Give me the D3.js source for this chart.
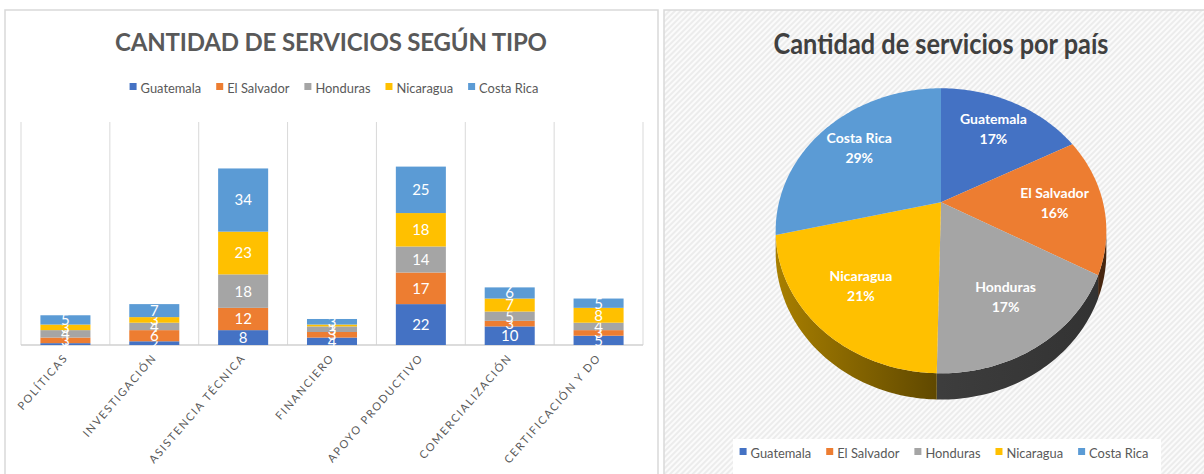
<!DOCTYPE html>
<html>
<head>
<meta charset="utf-8">
<script src="https://cdn.jsdelivr.net/npm/d3@7"></script>
<style>
  body { margin: 0; background: #fff; }
  svg { display: block; }
</style>
</head>
<body>
<div id="chart"></div>
<script>
// bar chart data
const categories = ["POLÍTICAS", "INVESTIGACIÓN", "ASISTENCIA TÉCNICA", "FINANCIERO", "APOYO PRODUCTIVO", "COMERCIALIZACIÓN", "CERTIFICACIÓN Y DO"]
const countries = ["Guatemala", "El Salvador", "Honduras", "Nicaragua", "Costa Rica"]
const guatemala  = [1, 2, 8, 4, 22, 10, 5]
const elSalvador = [3, 6, 12, 3, 17, 3, 3]
const honduras   = [4, 4, 18, 3, 14, 5, 4]
const nicaragua  = [3, 3, 23, 1, 18, 7, 8]
const costaRica  = [5, 7, 34, 3, 25, 6, 5]
// pie data (services per country)
const pieValues = [52, 47, 52, 63, 86]
const colors = ["#4472c4", "#ed7d31", "#a5a5a5", "#ffc000", "#5b9bd5"]

const W = 1204, H = 474
const FONT = "Lato, 'Open Sans', sans-serif"

const svg = d3.select("#chart").append("svg")
    .attr("width", W)
    .attr("height", H)

const defs = svg.append("defs")
const hatch = defs.append("pattern")
    .attr("id", "hatch")
    .attr("width", 4).attr("height", 4)
    .attr("patternUnits", "userSpaceOnUse")
    .attr("patternTransform", "rotate(45)")
hatch.append("rect").attr("width", 4).attr("height", 4).attr("fill", "#fbfbfb")
hatch.append("rect").attr("width", 2).attr("height", 4).attr("fill", "#ececec")

// panels
svg.append("rect")
    .attr("x", 5).attr("y", 10).attr("width", 653).attr("height", 480)
    .attr("fill", "#fff").attr("stroke", "#d9d9d9").attr("stroke-width", 1.5)
svg.append("rect")
    .attr("x", 664).attr("y", 10).attr("width", 560).attr("height", 480)
    .attr("fill", "url(#hatch)").attr("stroke", "#d9d9d9").attr("stroke-width", 1.5)

// ---------- stacked bar chart ----------
const rows = categories.map((c, i) => ({
    cat: c,
    "Guatemala": guatemala[i],
    "El Salvador": elSalvador[i],
    "Honduras": honduras[i],
    "Nicaragua": nicaragua[i],
    "Costa Rica": costaRica[i]
}))

const x = d3.scaleBand()
    .domain(categories)
    .range([21, 643])
    .paddingInner(0.437)
    .paddingOuter(0.2185)

const y = d3.scaleLinear()
    .domain([0, 120])
    .range([345, 122])

const step = x.step()
const left = x.range()[0]

// vertical gridlines between categories
svg.append("g").selectAll("line")
    .data(d3.range(categories.length + 1))
    .join("line")
    .attr("x1", i => left + i * step)
    .attr("x2", i => left + i * step)
    .attr("y1", y(120))
    .attr("y2", y(0))
    .attr("stroke", "#d9d9d9")
    .attr("stroke-width", 1)

svg.append("line")
    .attr("x1", left).attr("x2", x.range()[1])
    .attr("y1", y(0)).attr("y2", y(0))
    .attr("stroke", "#d0d0d0").attr("stroke-width", 1.5)

const stacked = d3.stack().keys(countries)(rows)

const layer = svg.append("g").selectAll("g")
    .data(stacked)
    .join("g")
    .attr("fill", (d, i) => colors[i])

layer.selectAll("rect")
    .data(d => d)
    .join("rect")
    .attr("x", d => x(d.data.cat))
    .attr("width", x.bandwidth())
    .attr("y", d => y(d[1]))
    .attr("height", d => y(d[0]) - y(d[1]))

layer.selectAll("text")
    .data(d => d)
    .join("text")
    .attr("x", d => x(d.data.cat) + x.bandwidth() / 2)
    .attr("y", d => (y(d[0]) + y(d[1])) / 2)
    .attr("dy", "0.36em")
    .attr("text-anchor", "middle")
    .attr("fill", "#fff")
    .style("font-family", FONT)
    .style("font-size", "15px")
    .text(d => d[1] - d[0])

// category labels
svg.append("g").selectAll("text")
    .data(categories)
    .join("text")
    .attr("transform", d => `translate(${x(d) + x.bandwidth() / 2 + 3},${y(0) + 13}) rotate(-49)`)
    .attr("text-anchor", "end")
    .attr("fill", "#595959")
    .style("font-family", FONT)
    .style("font-size", "11px")
    .style("letter-spacing", "1.7px")
    .text(d => d)

// title
svg.append("text")
    .attr("x", 331).attr("y", 51)
    .attr("text-anchor", "middle")
    .attr("fill", "#595959")
    .attr("textLength", 432)
    .attr("lengthAdjust", "spacing")
    .style("font-family", FONT)
    .style("font-weight", "bold")
    .style("font-size", "24px")
    .text("CANTIDAD  DE  SERVICIOS  SEGÚN  TIPO")

function legend(cx, baseline) {
    const g = svg.append("g")
    const items = g.selectAll("g")
        .data(countries)
        .join("g")
    items.append("rect")
        .attr("width", 7).attr("height", 7)
        .attr("y", baseline - 10)
        .attr("fill", (d, i) => colors[i])
    const texts = items.append("text")
        .attr("x", 11)
        .attr("y", baseline)
        .attr("fill", "#595959")
        .style("font-family", FONT)
        .style("font-size", "14px")
        .text(d => d)
    // squeeze text to a Calibri-like width
    texts.each(function () {
        const w = this.getComputedTextLength()
        d3.select(this).attr("textLength", w * 0.92).attr("lengthAdjust", "spacingAndGlyphs")
    })
    const widths = texts.nodes().map(n => +n.getAttribute("textLength") + 11)
    const gap = 15
    const total = d3.sum(widths) + gap * (widths.length - 1)
    let pos = cx - total / 2
    items.attr("transform", (d, i) => {
        const t = `translate(${pos},0)`
        pos += widths[i] + gap
        return t
    })
}

legend(334, 93)

// ---------- 3D pie chart ----------
const pcx = 941, pcy = 202.3, R = 162, A = 136.8, persp = 0.2, depth = 21

// perspective projection of a point on a tilted disc
function proj(theta, r, dz) {
    const u = r * Math.sin(theta)
    const v = -r * Math.cos(theta)
    const w = 1 / (1 - persp * v)
    return [pcx + R * u * w, pcy + A * v * w + (dz ? dz * w : 0)]
}

const pie = d3.pie().sort(null).value(d => d)
const arcs = pie(pieValues)
const total = d3.sum(pieValues)

function arcPoints(a0, a1, r, dz) {
    const n = Math.max(2, Math.ceil((a1 - a0) / 0.02))
    return d3.range(n + 1).map(k => proj(a0 + (a1 - a0) * k / n, r, dz))
}

// side walls (only the front half is visible)
const visA = Math.acos(-persp), visB = 2 * Math.PI - Math.acos(-persp)
const sides = svg.append("g")
arcs.forEach((a, i) => {
    const s = Math.max(a.startAngle, visA)
    const e = Math.min(a.endAngle, visB)
    if (e <= s) return
    const grad = defs.append("linearGradient")
        .attr("id", "side" + i)
        .attr("gradientUnits", "userSpaceOnUse")
        .attr("x1", pcx - R * 1.02).attr("x2", pcx + R * 1.02)
        .attr("y1", 0).attr("y2", 0)
    const base = d3.rgb(colors[i])
    ;[[0, 0.66], [0.5, 0.37], [1, 0.3]].forEach(([o, f]) => {
        grad.append("stop")
            .attr("offset", o)
            .attr("stop-color", d3.rgb(base.r * f, base.g * f, base.b * f))
    })
    const pts = arcPoints(s, e, 1, 0).concat(arcPoints(s, e, 1, depth).reverse())
    sides.append("path")
        .attr("d", "M" + pts.map(p => p.join(",")).join("L") + "Z")
        .attr("fill", `url(#side${i})`)
})

// top faces
svg.append("g").selectAll("path")
    .data(arcs)
    .join("path")
    .attr("d", a => {
        const pts = [[pcx, pcy]].concat(arcPoints(a.startAngle, a.endAngle, 1, 0))
        return "M" + pts.map(p => p.join(",")).join("L") + "Z"
    })
    .attr("fill", (a, i) => colors[i])

// slice labels
const labels = svg.append("g").selectAll("g")
    .data(arcs)
    .join("g")
    .attr("transform", a => {
        const p = proj((a.startAngle + a.endAngle) / 2, 0.7, 0)
        return `translate(${p[0]},${p[1]})`
    })
    .attr("text-anchor", "middle")
    .attr("fill", "#fff")
    .style("font-family", FONT)
    .style("font-weight", "bold")
    .style("font-size", "14px")
labels.append("text").attr("y", -5).text((a, i) => countries[i])
labels.append("text").attr("y", 15).text(a => Math.round(a.value / total * 100) + "%")

// pie title
svg.append("text")
    .attr("x", 941).attr("y", 54)
    .attr("text-anchor", "middle")
    .attr("fill", "#404040")
    .attr("textLength", 335)
    .attr("lengthAdjust", "spacingAndGlyphs")
    .style("font-family", FONT)
    .style("font-weight", "bold")
    .style("font-size", "29px")
    .text("Cantidad de servicios por país")

// pie legend on a white box
svg.append("rect")
    .attr("x", 733).attr("y", 439).attr("width", 428).attr("height", 40)
    .attr("fill", "#fff")
legend(944, 458)
</script>
</body>
</html>
